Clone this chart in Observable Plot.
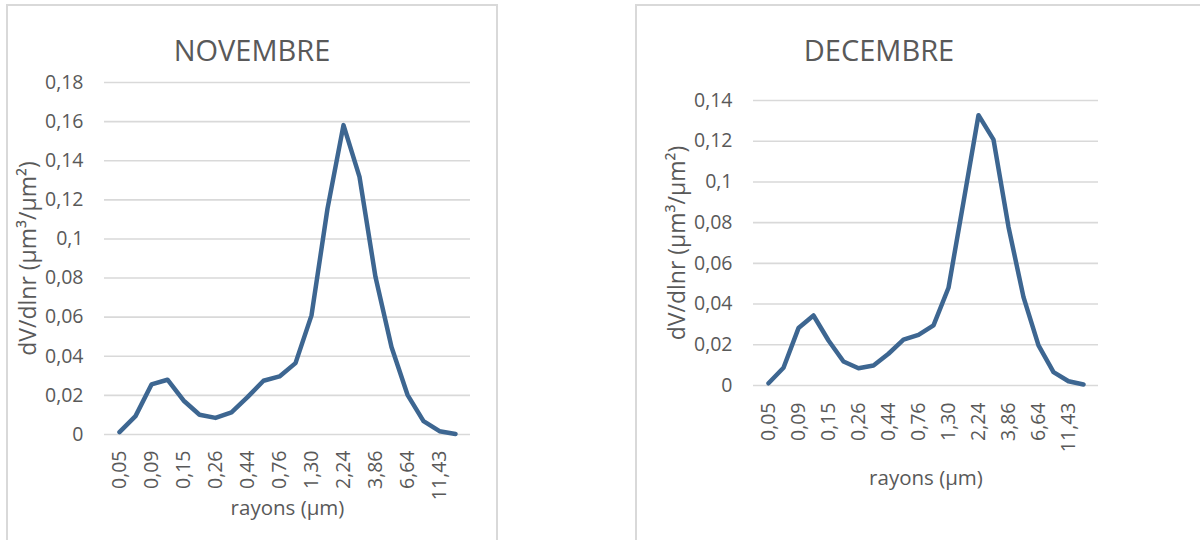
<!DOCTYPE html>
<html>
<head>
<meta charset="utf-8">
<script src="https://cdn.jsdelivr.net/npm/d3@7"></script>
<script src="https://cdn.jsdelivr.net/npm/@observablehq/plot@0.6"></script>
<style>
  html, body { margin: 0; padding: 0; background: #fff; }
  #wrap { position: relative; width: 1200px; height: 540px; overflow: hidden; font-family: "Open Sans", sans-serif; }
  .box { position: absolute; border: 2px solid #D9D9D9; box-sizing: border-box; background: #fff; }
  .title { position: absolute; font-size: 29px; color: #595959; white-space: nowrap; transform: translate(-50%, -50%); line-height: 1; }
  .chart { position: absolute; top: 0; }
</style>
</head>
<body>
<div id="wrap">
  <div class="box" style="left:6px; top:4px; width:492px; height:560px;"></div>
  <div class="box" style="left:635px; top:4px; width:600px; height:560px;"></div>
  <div class="title" style="left:252px; top:49px;">NOVEMBRE</div>
  <div class="title" style="left:879px; top:49px;">DECEMBRE</div>
  <div class="chart" id="c1" style="left:0px;"></div>
  <div class="chart" id="c2" style="left:600px;"></div>
</div>
<script>
// Categories: particle radii (µm)
const radii = ["0,05","0,07","0,09","0,11","0,15","0,19","0,26","0,34","0,44","0,58","0,76","0,99","1,30","1,71","2,24","2,94","3,86","5,05","6,64","8,71","11,43","15,00"];
// Labelled x ticks
const xTickLabels = ["0,05","0,09","0,15","0,26","0,44","0,76","1,30","2,24","3,86","6,64","11,43"];
// Series values dV/dlnr
const novembre = [0.0012,0.0094,0.0256,0.0280,0.0174,0.0101,0.0085,0.0113,0.0191,0.0275,0.0297,0.0365,0.0609,0.1155,0.1582,0.1317,0.0805,0.0447,0.0203,0.0068,0.0017,0.0003];
const decembre = [0.0011,0.0087,0.0282,0.0344,0.0221,0.0118,0.0085,0.0098,0.0156,0.0225,0.0249,0.0295,0.0480,0.0902,0.1328,0.1208,0.0779,0.0434,0.0197,0.0066,0.0021,0.0005];
// Y tick values
const yTicksNov = [0,0.02,0.04,0.06,0.08,0.1,0.12,0.14,0.16,0.18];
const yTicksDec = [0,0.02,0.04,0.06,0.08,0.1,0.12,0.14];
// Labels
const yLabel = "dV/dlnr (µm³/µm²)";
const xLabel = "rayons (µm)";

const fmt = d => String(+d.toFixed(2)).replace(".", ",");
const lineColor = "#3D6691";
const textColor = "#595959";

function makeChart(values, yTicks, opts) {
  const data = radii.map((r, i) => ({r, v: values[i]}));
  return Plot.plot({
    width: opts.width,
    height: 540,
    marginLeft: opts.ml,
    marginRight: opts.mr,
    marginTop: opts.mt,
    marginBottom: opts.mb,
    style: {fontFamily: "'Open Sans', sans-serif", fontSize: "19.5px", color: textColor, background: "transparent", overflow: "visible"},
    x: {type: "point", domain: radii, padding: 0.5},
    y: {domain: [0, yTicks[yTicks.length - 1]]},
    marks: [
      Plot.gridY(yTicks, {stroke: "#D9D9D9", strokeOpacity: 1, strokeWidth: 1.6}),
      Plot.axisY(yTicks, {tickSize: 0, tickPadding: 21, tickFormat: fmt, label: null, fill: textColor}),
      Plot.axisX(xTickLabels, {tickSize: 0, tickPadding: opts.xpad, tickRotate: -90, label: null, fill: textColor}),
      Plot.line(data, {x: "r", y: "v", stroke: lineColor, strokeWidth: 4.5, strokeLinejoin: "round", strokeLinecap: "round"}),
      Plot.text([yLabel], {frameAnchor: "left", dx: -76, rotate: -90, textAnchor: "middle", text: d => d, fill: textColor, fontSize: 23}),
      Plot.text([xLabel], {frameAnchor: "bottom", dy: opts.xlabDy, textAnchor: "middle", text: d => d, fill: textColor, fontSize: 20.5})
    ]
  });
}

document.getElementById("c1").append(makeChart(novembre, yTicksNov, {width: 500, ml: 104, mr: 30, mt: 82, mb: 106, xpad: 16, xlabDy: 80}));
document.getElementById("c2").append(makeChart(decembre, yTicksDec, {width: 600, ml: 153, mr: 102, mt: 100, mb: 155, xpad: 17, xlabDy: 99}));
</script>
</body>
</html>
